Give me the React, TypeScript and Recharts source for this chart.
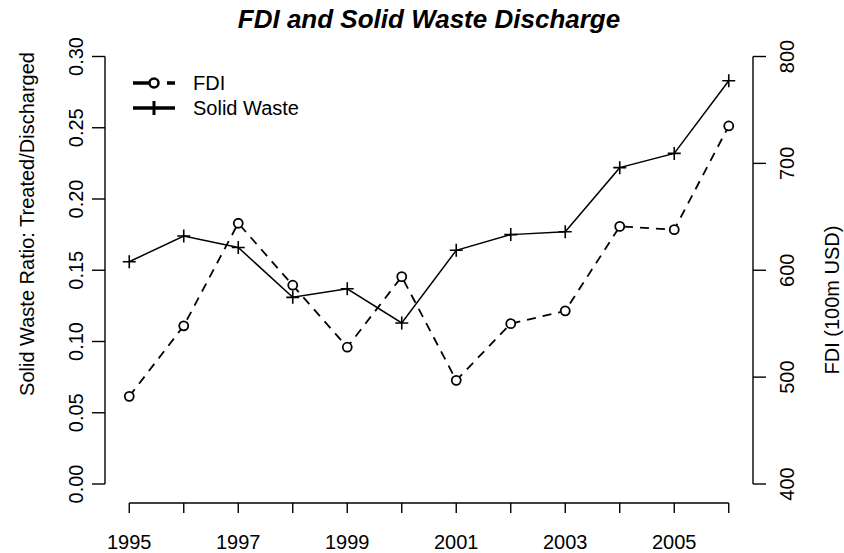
import React from 'react';
import { LineChart, Line, XAxis, YAxis, ReferenceLine } from 'recharts';

// values
const years = [1995, 1996, 1997, 1998, 1999, 2000, 2001, 2002, 2003, 2004, 2005, 2006];
const solidWaste = [0.156, 0.174, 0.166, 0.131, 0.137, 0.113, 0.164, 0.175, 0.177, 0.222, 0.232, 0.283];
const fdi = [482, 548, 644, 586, 528, 594, 497, 550, 562, 641, 638, 735];

const xTicks = years;
const leftTicks = [0, 0.05, 0.1, 0.15, 0.2, 0.25, 0.3];
const rightTicks = [400, 500, 600, 700, 800];

// R extends the plot region 4% past the data / axis range
const X_DOMAIN: [number, number] = [1994.555, 2006.445];
const LEFT_DOMAIN: [number, number] = [-0.01333, 0.31333];
const RIGHT_DOMAIN: [number, number] = [382.22, 817.78];

const FONT = '"Liberation Sans", Arial, Helvetica, sans-serif';
const W = 844;
const H = 553;

const data = years.map((year, i) => ({ year, solidWaste: solidWaste[i], fdi: fdi[i] }));

const CircleDot = (props: any) => {
  const { cx, cy, index } = props;
  return <circle key={`c-${index}`} cx={cx} cy={cy} r={4.5} fill="#fff" stroke="#000" strokeWidth={1.8} />;
};

const PlusDot = (props: any) => {
  const { cx, cy, index } = props;
  return (
    <path
      key={`p-${index}`}
      d={`M${cx - 6.5},${cy}H${cx + 6.5}M${cx},${cy - 6.5}V${cy + 6.5}`}
      stroke="#000"
      strokeWidth={1.6}
      fill="none"
    />
  );
};

const XTick = (props: any) => {
  const { x, y, payload } = props;
  if (payload.value % 2 === 0) return <g />;
  return (
    <text x={x} y={y + 36} textAnchor="middle" fontSize={20} fontFamily={FONT} fill="#000">
      {payload.value}
    </text>
  );
};

const LeftTick = (props: any) => {
  const { x, y, payload } = props;
  const bx = x - 9;
  return (
    <text x={bx} y={y} transform={`rotate(-90, ${bx}, ${y})`} textAnchor="middle" fontSize={20} fontFamily={FONT} fill="#000">
      {payload.value.toFixed(2)}
    </text>
  );
};

const RightTick = (props: any) => {
  const { x, y, payload } = props;
  const bx = x + 28;
  return (
    <text x={bx} y={y} transform={`rotate(-90, ${bx}, ${y})`} textAnchor="middle" fontSize={20} fontFamily={FONT} fill="#000">
      {payload.value}
    </text>
  );
};

function Overlay() {
  return (
    <svg width={W} height={H} style={{ position: 'absolute', left: 0, top: 0, pointerEvents: 'none' }}>
      <text x={429} y={28} textAnchor="middle" fontSize={26} fontWeight="bold" fontStyle="italic" fontFamily={FONT}>
        FDI and Solid Waste Discharge
      </text>
      <text x={34} y={224} transform="rotate(-90, 34, 224)" textAnchor="middle" fontSize={20} fontFamily={FONT}>
        Solid Waste Ratio: Treated/Discharged
      </text>
      <text x={839} y={300} transform="rotate(-90, 839, 300)" textAnchor="middle" fontSize={20} fontFamily={FONT}>
        FDI (100m USD)
      </text>

      {/* legend */}
      <line x1={133} y1={83} x2={175} y2={83} stroke="#000" strokeWidth={3.3} strokeDasharray="17 17" />
      <circle cx={154} cy={83} r={4.5} fill="#fff" stroke="#000" strokeWidth={2.5} />
      <text x={193} y={90} fontSize={20} fontFamily={FONT}>FDI</text>
      <line x1={133} y1={108} x2={175} y2={108} stroke="#000" strokeWidth={3.3} />
      <path d="M154,101V115" stroke="#000" strokeWidth={3} />
      <text x={193} y={115} fontSize={20} fontFamily={FONT}>Solid Waste</text>
    </svg>
  );
}

export default function App() {
  return (
    <div style={{ position: 'absolute', left: 0, top: 0, width: W, height: H, background: '#fff' }}>
      <LineChart width={W} height={H} data={data} margin={{ top: 37.5, right: 0, bottom: 0, left: 0 }}>
        <XAxis
          dataKey="year"
          type="number"
          domain={X_DOMAIN}
          allowDataOverflow
          ticks={xTicks}
          interval={0}
          height={50}
          axisLine={false}
          tickLine={{ stroke: '#000', strokeWidth: 1.4 }}
          tickSize={10}
          tickMargin={0}
          tick={<XTick />}
        />
        <YAxis
          yAxisId="left"
          orientation="left"
          width={105}
          domain={LEFT_DOMAIN}
          allowDataOverflow
          ticks={leftTicks}
          interval={0}
          axisLine={false}
          tickLine={{ stroke: '#000', strokeWidth: 1.4 }}
          tickSize={13}
          tickMargin={0}
          tick={<LeftTick />}
        />
        <YAxis
          yAxisId="right"
          orientation="right"
          width={91}
          domain={RIGHT_DOMAIN}
          allowDataOverflow
          ticks={rightTicks}
          interval={0}
          axisLine={false}
          tickLine={{ stroke: '#000', strokeWidth: 1.4 }}
          tickSize={13}
          tickMargin={0}
          tick={<RightTick />}
        />
        {/* R draws each axis line only between its first and last tick */}
        <ReferenceLine
          yAxisId="left"
          segment={[{ x: years[0], y: LEFT_DOMAIN[0] }, { x: years[years.length - 1], y: LEFT_DOMAIN[0] }]}
          stroke="#000"
          strokeWidth={1.4}
          ifOverflow="visible"
        />
        <ReferenceLine
          yAxisId="left"
          segment={[{ x: X_DOMAIN[0], y: leftTicks[0] }, { x: X_DOMAIN[0], y: leftTicks[leftTicks.length - 1] }]}
          stroke="#000"
          strokeWidth={1.4}
          ifOverflow="visible"
        />
        <ReferenceLine
          yAxisId="right"
          segment={[{ x: X_DOMAIN[1], y: rightTicks[0] }, { x: X_DOMAIN[1], y: rightTicks[rightTicks.length - 1] }]}
          stroke="#000"
          strokeWidth={1.4}
          ifOverflow="visible"
        />
        <Line
          yAxisId="right"
          dataKey="fdi"
          type="linear"
          stroke="#000"
          strokeWidth={1.8}
          strokeDasharray="9 7"
          dot={CircleDot}
          isAnimationActive={false}
        />
        <Line
          yAxisId="left"
          dataKey="solidWaste"
          type="linear"
          stroke="#000"
          strokeWidth={1.5}
          dot={PlusDot}
          isAnimationActive={false}
        />
      </LineChart>
      <Overlay />
    </div>
  );
}
